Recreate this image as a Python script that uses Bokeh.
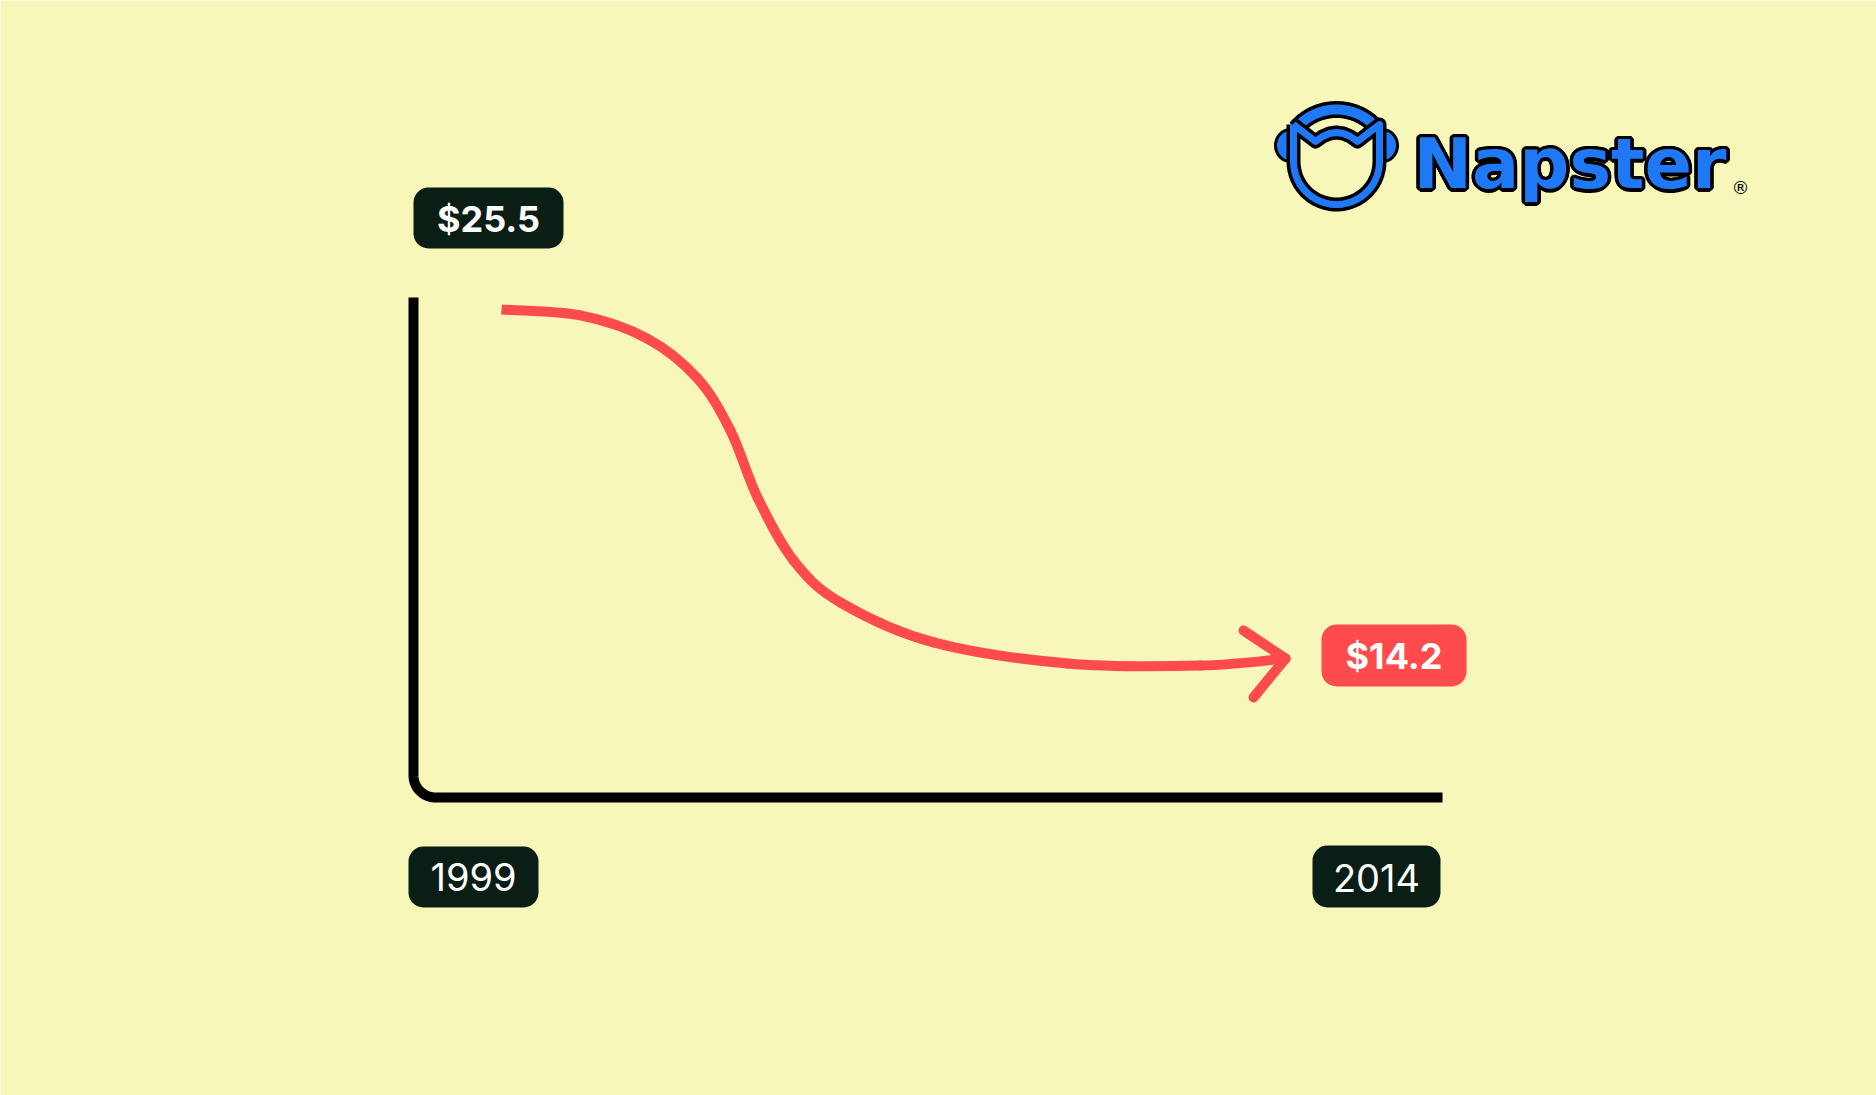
import re
import numpy as np
from bokeh.plotting import figure
from bokeh.models import Range1d
from bokeh.embed import file_html
from bokeh.resources import INLINE
from bokeh.core.properties import value

# ---------------- data ----------------
label_years = [1999, 2014]
label_prices = [25.5, 14.2]

curve_years = [1999.00, 2000.51, 2001.79, 2002.75, 2003.38, 2003.90,
               2004.59, 2005.49, 2007.27, 2009.83, 2012.37, 2014.00]
curve_prices = [25.50, 25.31, 24.56, 23.27, 21.58, 19.41,
                17.37, 16.01, 14.72, 14.04, 13.97, 14.20]

brand = "Napster"

# ---------------- style ----------------
BG = "#F6F7B8"
DARK = "#0A1E16"
RED = "#FF4B4B"
BLUE = "#1F78F5"
W, H = 1876, 1095
OFF = 0
BASE_FIX = 0.35  # alphabetic baseline correction (fraction of font size)

# layout anchors in page pixels
X_START, X_END = 501, 1285
Y_HIGH, Y_LOW = 309, 658
sx = (X_END - X_START) / (label_years[1] - label_years[0])
sy = (Y_LOW - Y_HIGH) / (label_prices[0] - label_prices[1])
x0 = label_years[0] - (X_START - OFF) / sx
x1 = x0 + W / sx
y1 = label_prices[0] + (Y_HIGH - OFF) / sy
y0 = y1 - H / sy


def to_page(x, y):
    return (X_START + (x - label_years[0]) * sx, Y_HIGH + (label_prices[0] - y) * sy)


p = figure(width=W, height=H, x_range=Range1d(x0, x1), y_range=Range1d(y0, y1),
           output_backend="svg", toolbar_location=None,
           x_axis_location=None, y_axis_location=None, min_border=0,
           background_fill_color=BG, border_fill_color=BG, outline_line_color=None)
p.grid.grid_line_color = None
p.extra_x_ranges = {"px": Range1d(OFF, OFF + W)}
p.extra_y_ranges = {"px": Range1d(OFF + H, OFF)}
PX = dict(x_range_name="px", y_range_name="px")

# ---------------- frame (axes) ----------------
R = 22
AX, AY, TOP, RIGHT = 413, 797, 297, 1442
t = np.linspace(np.pi, np.pi / 2, 24)
cx, cy = AX + R, AY - R
fx = [AX] + list(cx + R * np.cos(t)) + [RIGHT]
fy = [TOP] + list(cy + R * np.sin(t)) + [AY]
p.line(fx, fy, line_width=10, line_color="#000000", line_join="round", line_cap="butt", **PX)

# ---------------- curve (smooth Bezier through the read points) + arrow ----------------
P = np.column_stack([curve_years, curve_prices])
Pext = np.vstack([P[0], P, P[-1]])
seg = {k: [] for k in ("x0", "y0", "x1", "y1", "cx0", "cy0", "cx1", "cy1")}
for i in range(len(P) - 1):
    a, b, c, d = Pext[i], Pext[i + 1], Pext[i + 2], Pext[i + 3]
    k0 = b + (c - a) / 6.0
    k1 = c - (d - b) / 6.0
    for key, v in zip(seg, (b[0], b[1], c[0], c[1], k0[0], k0[1], k1[0], k1[1])):
        seg[key].append(v)
first = {k: v[:1] for k, v in seg.items()}
rest = {k: v[1:] for k, v in seg.items()}
p.bezier(line_width=10, line_color=RED, line_cap="butt", **first)
p.bezier(line_width=10, line_color=RED, line_cap="round", **rest)

tx, ty = to_page(label_years[1], label_prices[1])
p.multi_line([[tx - 42, tx], [tx - 32, tx]], [[ty - 28, ty], [ty + 39, ty]],
             line_width=10, line_color=RED, line_cap="round", line_join="round", **PX)


# ---------------- labels ----------------
def box(cxp, cyp, w, h, color, txt, style, size, base_dy):
    kw = dict(left=[cxp - w / 2], right=[cxp + w / 2], top=[cyp - h / 2], bottom=[cyp + h / 2],
              fill_color=color, line_color=None, **PX)
    try:
        p.quad(border_radius=15, **kw)
    except Exception:
        p.quad(**kw)
    p.text([cxp], [cyp + base_dy - BASE_FIX * size], text=[txt], text_color="#FFFFFF",
           text_font=value("Inter"), text_font_style=style,
           text_font_size=f"{size}px", text_align="center", text_baseline="alphabetic", **PX)


sxp, syp = to_page(label_years[0], label_prices[0])
box(sxp - 13, syp - 91.5, 150, 61, DARK, f"${label_prices[0]}", "bold", 36, 13.5)
box(tx + 108.5, ty - 3, 145, 62, RED, f"${label_prices[1]}", "bold", 36, 13)
box(AX + 60, AY + 79.5, 130, 61, DARK, f"{label_years[0]}", "normal", 38, 13.5)
box(RIGHT - 66, AY + 79, 128, 62, DARK, f"{label_years[1]}", "normal", 38, 14.5)

# ---------------- logo ----------------
# earcups
for ecx, sgn in [(1290, -1), (1382, 1)]:
    tt = np.linspace(np.pi / 2, 3 * np.pi / 2, 30)
    ex = list(ecx + sgn * 15 * np.abs(np.cos(tt)))
    ey = list(145 + 16 * np.sin(tt))
    p.patch(ex, ey, fill_color=BLUE, line_color="#000000", line_width=3, **PX)

# headband (drawn first so the face outline sits on it)
th = np.linspace(np.radians(-140), np.radians(-40), 40)
hx = list(1336 + 53 * np.cos(th))
hy = list(162 + 53 * np.sin(th))
p.line(hx, hy, line_width=17, line_color="#000000", line_cap="butt", **PX)
p.line(hx, hy, line_width=10, line_color=BLUE, line_cap="butt", **PX)

# face
tb = np.linspace(np.pi, 0, 30)
face_x = [1293, 1293] + list(1336 + 43 * np.cos(tb)) + [1379, 1379, 1357, 1350, 1343, 1336, 1329, 1322, 1315, 1293]
face_y = [124, 161] + list(161 + 43 * np.sin(tb)) + [161, 124, 141, 136, 133, 132, 133, 136, 141, 124]
p.line(face_x, face_y, line_width=14, line_color="#000000", line_join="round", **PX)
p.line(face_x, face_y, line_width=7, line_color=BLUE, line_join="round", **PX)

# wordmark
WM_SIZE = 70
wm_x, wm_y = 1413, 188 - BASE_FIX * WM_SIZE
for a in np.linspace(0, 2 * np.pi, 16, endpoint=False):
    p.text([wm_x], [wm_y], text=[brand], text_color="#000000", text_font=value("DejaVu Sans"),
           text_font_style="bold", text_font_size=f"{WM_SIZE}px", text_align="left",
           text_baseline="alphabetic", x_offset=3.5 * np.cos(a), y_offset=3.5 * np.sin(a), **PX)
p.text([wm_x], [wm_y], text=[brand], text_color=BLUE, text_font=value("DejaVu Sans"),
       text_font_style="bold", text_font_size=f"{WM_SIZE}px", text_align="left",
       text_baseline="alphabetic", **PX)
p.text([1740], [193 - BASE_FIX * 18], text=["®"], text_color="#000000", text_font=value("DejaVu Sans"),
       text_font_size="18px", text_align="center", text_baseline="alphabetic", **PX)

html = file_html(p, INLINE)
html = re.sub(r"<body([^>]*)>",
              r'<body\1 style="background:%s;margin:0;padding:0;overflow:hidden;">' % BG,
              html, count=1)
open("out.html", "w").write(html)
